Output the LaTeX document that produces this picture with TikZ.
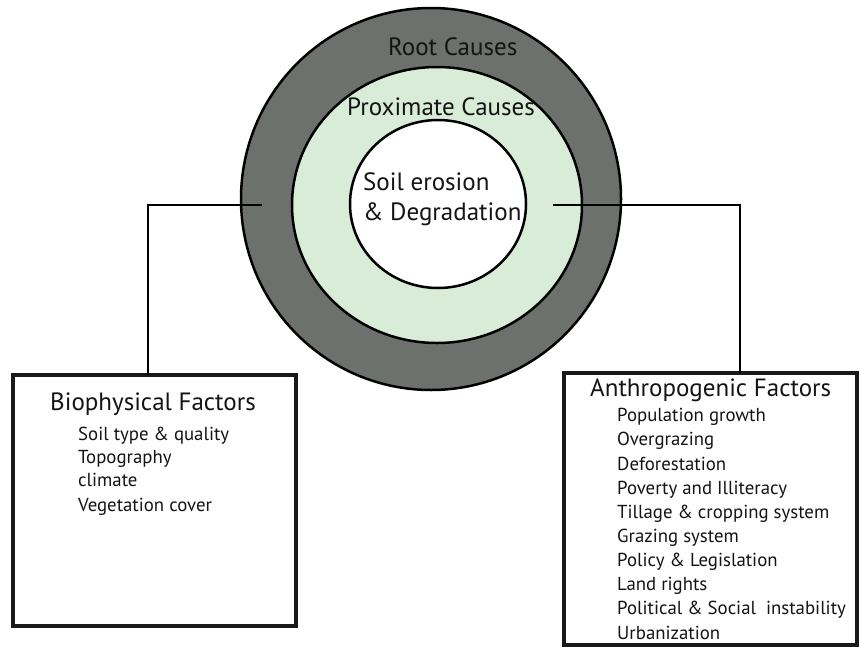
\documentclass[tikz,border=0pt]{standalone}
\usepackage{fontspec}
\setmainfont{PT Sans}
\definecolor{ringgray}{RGB}{108,113,110}
\definecolor{ringgreen}{RGB}{216,236,216}
\definecolor{txt}{RGB}{20,20,20}
\tikzset{
  ring/.style={draw=black, line width=2.5pt},
  factorbox/.style={draw=black!90, line width=3.2pt, rectangle, inner sep=0pt},
  conn/.style={draw=black, line width=1.5pt},
  ringlabel/.style={inner sep=0pt, anchor=base west, text=txt, font=\fontsize{25}{28}\selectfont},
  boxtitle/.style={inner sep=0pt, anchor=base west, text=txt, font=\fontsize{25}{28}\selectfont},
  boxitem/.style={inner sep=0pt, anchor=base west, text=txt, font=\fontsize{18.8}{22}\selectfont},
}
\begin{document}
\begin{tikzpicture}[x=1pt,y=-1pt]
\useasboundingbox (0,0) rectangle (861,648);
\fill[white] (0,0) rectangle (861,648);
% rings
\draw[ring, fill=ringgray] (431,199) ellipse [x radius=190, y radius=191];
\draw[ring, fill=ringgreen] (437,205) ellipse [x radius=145, y radius=138];
\draw[ring, fill=white] (438,204) ellipse [x radius=88, y radius=84];
\node[ringlabel] (root) at (388,55) {Root Causes};
\node[ringlabel] (prox) at (347,115) {Proximate Causes};
\node[ringlabel] (soil) at (363,190) {Soil erosion};
\node[ringlabel] (degr) at (363,220) {\& Degradation};
% boxes
\node[factorbox, minimum width=283pt, minimum height=251pt] (bio) at (154.5,500.5) {};
\node[factorbox, minimum width=293pt, minimum height=272pt] (anth) at (710.5,509) {};
% connectors
\coordinate (lstart) at (262,205);
\coordinate (rstart) at (553,205);
\draw[conn] (lstart) -- (148,205) -- (148,375);
\draw[conn] (rstart) -- (740,205) -- (740,373);
% biophysical text
\node[boxtitle] (biot) at (50,410) {Biophysical Factors};
\node[boxitem] (b1) at (78,440) {Soil type \& quality};
\node[boxitem] (b2) at (78,463.3) {Topography};
\node[boxitem] (b3) at (78,486.7) {climate};
\node[boxitem] (b4) at (78,511.7) {Vegetation cover};
% anthropogenic text
\node[boxtitle] (antht) at (590,396.7) {Anthropogenic Factors};
\node[boxitem] (a1) at (617,421.7) {Population growth};
\node[boxitem] (a2) at (617,445.85) {Overgrazing};
\node[boxitem] (a3) at (617,470) {Deforestation};
\node[boxitem] (a4) at (617,494.15) {Poverty and Illiteracy};
\node[boxitem] (a5) at (617,518.3) {Tillage \& cropping system};
\node[boxitem] (a6) at (617,542.45) {Grazing system};
\node[boxitem] (a7) at (617,566.6) {Policy \& Legislation};
\node[boxitem] (a8) at (617,590.75) {Land rights};
\node[boxitem] (a9) at (617,614.9) {Political \& Social\ \ instability};
\node[boxitem] (a10) at (617,639) {Urbanization};
\end{tikzpicture}
\end{document}
